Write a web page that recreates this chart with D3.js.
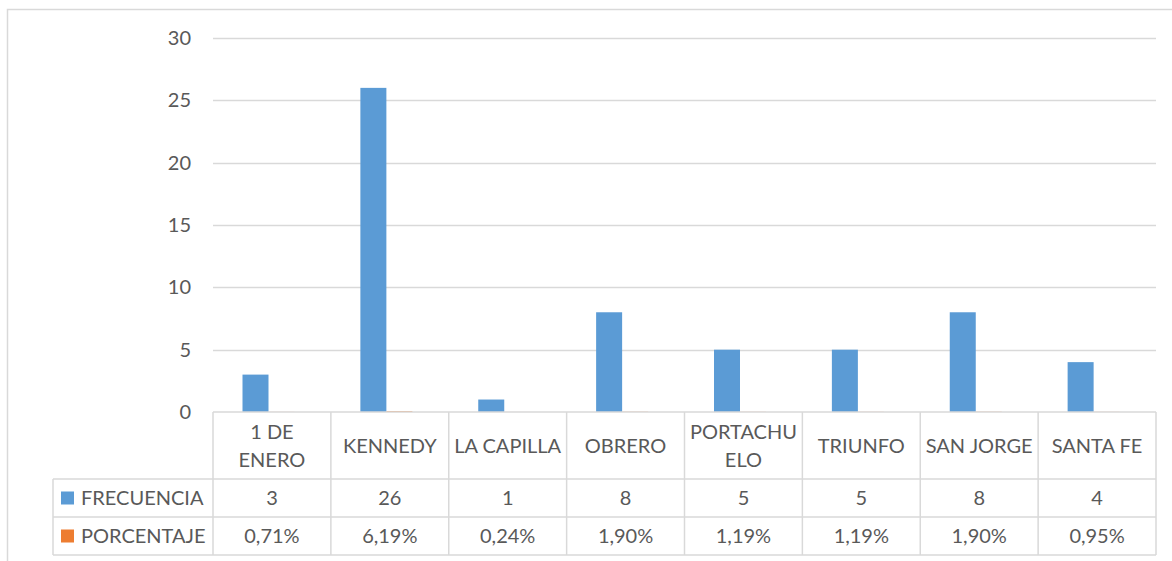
<!DOCTYPE html>
<html><head><meta charset="utf-8">
<script src="https://cdn.jsdelivr.net/npm/d3@7"></script>
<style>html,body{margin:0;padding:0;background:#fff;}svg{display:block;}</style>
</head><body>
<script>
const categories = ["1 DE ENERO", "KENNEDY", "LA CAPILLA", "OBRERO", "PORTACHUELO", "TRIUNFO", "SAN JORGE", "SANTA FE"];
const categoryLines = [["1 DE", "ENERO"], ["KENNEDY"], ["LA CAPILLA"], ["OBRERO"], ["PORTACHU", "ELO"], ["TRIUNFO"], ["SAN JORGE"], ["SANTA FE"]];
const frecuencia = [3, 26, 1, 8, 5, 5, 8, 4];
const porcentaje = [0.0071, 0.0619, 0.0024, 0.0190, 0.0119, 0.0119, 0.0190, 0.0095];
const seriesNames = ["FRECUENCIA", "PORCENTAJE"];
const yTicks = [0, 5, 10, 15, 20, 25, 30];

(function () {
const W = 1172, H = 561;
const FONT = "Lato, 'Open Sans', sans-serif";
const FS = 20;
const TXT = "#595959", GRID = "#d9d9d9";
const colors = ["#5b9bd5", "#ed7d31"];

const svg = d3.select("body").append("svg").attr("width", W).attr("height", H);

// chart border
svg.append("rect").attr("x", 7.5).attr("y", 9.5).attr("width", W + 10).attr("height", H + 10)
  .attr("fill", "none").attr("stroke", GRID).attr("stroke-width", 1.5);

const pLeft = 213, pRight = 1156, pTop = 38, base = 412;
const x = d3.scaleBand().domain(categories).range([pLeft, pRight]).paddingInner(0).paddingOuter(0);
const y = d3.scaleLinear().domain([0, 30]).range([base, pTop]);
const xs = d3.scaleBand().domain(seriesNames).range([29.5, 29.5 + 52]);

// gridlines
svg.append("g").selectAll("line").data(yTicks.filter(d => d > 0)).join("line")
  .attr("x1", pLeft).attr("x2", pRight).attr("y1", d => Math.round(y(d)) + 0.5).attr("y2", d => Math.round(y(d)) + 0.5)
  .attr("stroke", GRID).attr("stroke-width", 1.5);

// y axis labels
const yAxis = d3.axisLeft(y).tickValues(yTicks).tickSize(0).tickPadding(22);
const ga = svg.append("g").attr("transform", `translate(${pLeft},0)`).call(yAxis);
ga.select(".domain").remove();
ga.selectAll("text").attr("font-family", FONT).attr("font-size", FS).attr("fill", TXT);

// bars
const series = [frecuencia, porcentaje];
series.forEach((vals, si) => {
  svg.append("g").selectAll("rect").data(vals).join("rect")
    .attr("x", (d, i) => x(categories[i]) + xs(seriesNames[si]))
    .attr("width", xs.bandwidth())
    .attr("y", d => y(d))
    .attr("height", d => base - y(d))
    .attr("fill", colors[si]);
});

// data table
const rowTop = [412, 479, 517, 555];
const tableLeft = 53;
const g = svg.append("g").attr("stroke", GRID).attr("stroke-width", 1.5).attr("fill", "none");
g.append("line").attr("x1", pLeft).attr("x2", pRight).attr("y1", rowTop[0]).attr("y2", rowTop[0]);
[1, 2, 3].forEach(r => g.append("line").attr("x1", tableLeft).attr("x2", pRight).attr("y1", rowTop[r]).attr("y2", rowTop[r]));
categories.forEach(c => g.append("line").attr("x1", x(c)).attr("x2", x(c)).attr("y1", rowTop[0]).attr("y2", rowTop[3]));
g.append("line").attr("x1", pRight).attr("x2", pRight).attr("y1", rowTop[0]).attr("y2", rowTop[3]);
g.append("line").attr("x1", tableLeft).attr("x2", tableLeft).attr("y1", rowTop[1]).attr("y2", rowTop[3]);

// category labels
const cx = c => x(c) + x.bandwidth() / 2;
categories.forEach((c, i) => {
  const lines = categoryLines[i];
  const mid = (rowTop[0] + rowTop[1]) / 2;
  const lh = 28;
  lines.forEach((ln, k) => {
    svg.append("text").attr("x", cx(c)).attr("y", mid + (k - (lines.length - 1) / 2) * lh)
      .attr("dy", "0.35em").attr("text-anchor", "middle")
      .attr("font-family", FONT).attr("font-size", FS).attr("fill", TXT).text(ln);
  });
});

const fmtPct = d3.formatLocale({decimal: ",", thousands: ".", grouping: [3], currency: ["", ""]}).format(".2%");
const rowsText = [frecuencia.map(String), porcentaje.map(fmtPct)];
rowsText.forEach((arr, r) => {
  const mid = (rowTop[r + 1] + rowTop[r + 2]) / 2;
  arr.forEach((t, i) => {
    svg.append("text").attr("x", cx(categories[i])).attr("y", mid).attr("dy", "0.35em")
      .attr("text-anchor", "middle").attr("font-family", FONT).attr("font-size", FS).attr("fill", TXT).text(t);
  });
  svg.append("rect").attr("x", 61).attr("y", mid - 6.5).attr("width", 13).attr("height", 13).attr("fill", colors[r]);
  svg.append("text").attr("x", 81).attr("y", mid).attr("dy", "0.35em")
    .attr("font-family", FONT).attr("font-size", FS).attr("fill", TXT).text(seriesNames[r]);
});
})();
</script>
</body></html>
